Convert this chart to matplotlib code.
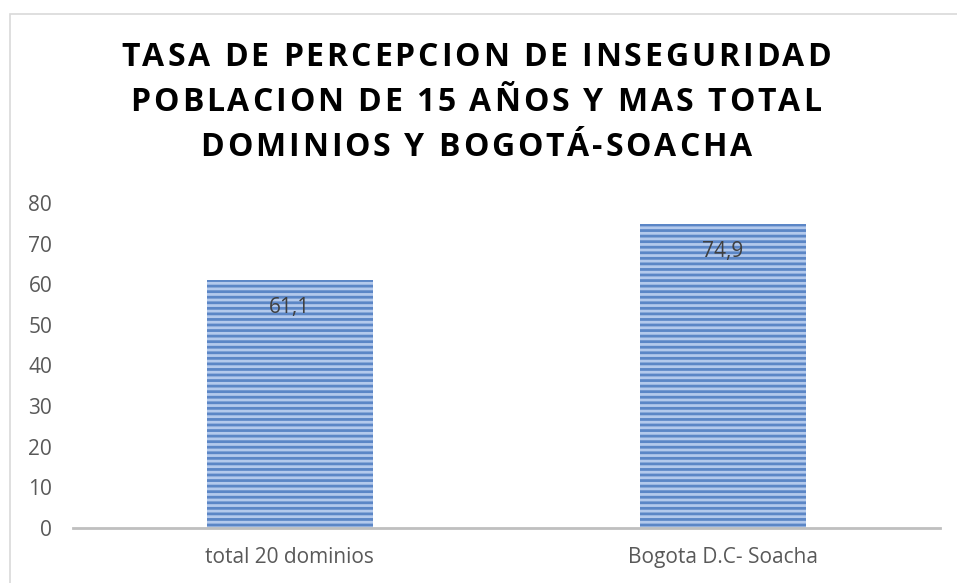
import matplotlib
matplotlib.use('Agg')
import matplotlib.pyplot as plt
from matplotlib.patches import Rectangle
from matplotlib.font_manager import FontProperties, findfont
from matplotlib.ft2font import FT2Font

# datos
categorias = ['total 20 dominios', 'Bogota D.C- Soacha']
tasas = [61.1, 74.9]
etiquetas = ['61,1', '74,9']
titulo = ['TASA DE PERCEPCION DE INSEGURIDAD',
          'POBLACION DE 15 AÑOS Y MAS TOTAL',
          'DOMINIOS Y BOGOTÁ-SOACHA']

plt.rcParams['font.family'] = ['Open Sans', 'DejaVu Sans']
plt.rcParams['hatch.linewidth'] = 2.0

W, H = 957, 583
fig = plt.figure(figsize=(W / 100, H / 100), dpi=100)
ax = fig.add_axes([0.0763, 0.0943, 0.9057, 0.5577])

# borde del gráfico
fig.patches.append(Rectangle((10 / W, -0.5), 2, 1.5 - 14 / H, transform=fig.transFigure,
                             fill=False, edgecolor='#d9d9d9', linewidth=1.2))

x = range(len(categorias))
bars = ax.bar(x, tasas, width=0.383, color='#b3c9ec', edgecolor='#5b86c6',
              linewidth=0, hatch='---')

for b, lab in zip(bars, etiquetas):
    ax.text(b.get_x() + b.get_width() / 2, b.get_height() - 4.3, lab,
            ha='center', va='top', fontsize=15, color='#404040')

ax.set_xlim(-0.5, 1.5)
ax.set_ylim(0, 80)
ax.set_yticks(range(0, 81, 10))
ax.set_xticks(list(x))
ax.set_xticklabels(categorias)
ax.tick_params(length=0, labelsize=15, labelcolor='#595959')
ax.tick_params(axis='x', pad=14)
ax.tick_params(axis='y', pad=15)
for s in ['top', 'right', 'left']:
    ax.spines[s].set_visible(False)
ax.spines['bottom'].set_color('#bfbfbf')
ax.spines['bottom'].set_linewidth(2)

# título con espaciado entre letras
tam = 23
prop = FontProperties(family='Open Sans', weight='bold', size=tam)
font = FT2Font(findfont(prop))
font.set_size(tam, 100)

def avances(s):
    return [font.load_char(ord(c)).linearHoriAdvance / 65536 for c in s]

ancho_obj = 710
a0 = avances(titulo[0])
track = (ancho_obj - sum(a0)) / (len(titulo[0]) - 1)

for i, linea in enumerate(titulo):
    av = avances(linea)
    total = sum(av) + track * (len(linea) - 1)
    px = 476 - total / 2
    yc = 1 - (57.5 + i * 45) / H
    for c, a in zip(linea, av):
        if c != ' ':
            fig.text((px + a / 2) / W, yc, c, ha='center', va='center',
                     fontproperties=prop, color='black')
        px += a + track

fig.savefig('out.png', dpi=100)
